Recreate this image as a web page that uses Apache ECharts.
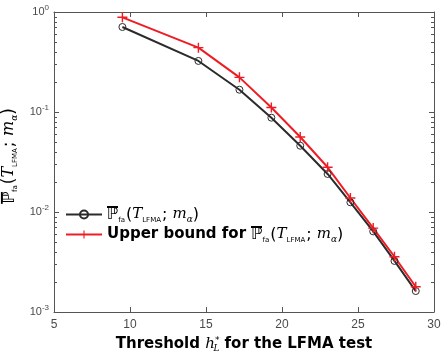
<!DOCTYPE html>
<html><head><meta charset="utf-8">
<script src="https://cdn.jsdelivr.net/npm/echarts@6/dist/echarts.min.js"></script>
<style>html,body{margin:0;padding:0;background:#fff}#c{width:441px;height:351px}</style>
</head><body><div id="c"></div>
<script>
var thresholds = [9.5, 14.5, 17.2, 19.3, 21.2, 23.0, 24.5, 26.0, 27.4, 28.8];
var pfa = [0.708, 0.324, 0.167, 0.0877, 0.046, 0.024, 0.0125, 0.0064, 0.00324, 0.00162];
var upperBound = [0.885, 0.44, 0.222, 0.111, 0.0562, 0.028, 0.0138, 0.0069, 0.00357, 0.00179];
var xTicks = [5, 10, 15, 20, 25, 30];
var yDecades = [0.001, 0.01, 0.1, 1];

var chart = echarts.init(document.getElementById('c'));
var axisCol = '#555';
var labCol = '#4a4a4a';
var plusPath = 'path://M4.3,0H5.7V10H4.3ZM0,4.3H10V5.7H0Z';

// small bitmap with a bar at the top, used as background of the P token to draw its overline
var ovl = document.createElement('canvas');
ovl.width = 4; ovl.height = 40;
(function () { var g = ovl.getContext('2d'); g.fillStyle = '#000'; g.fillRect(0, 2, 4, 4); })();

var richY = {
  b: {fontSize: 11, color: labCol, fontFamily: 'Liberation Sans'},
  s: {fontSize: 8, color: labCol, fontFamily: 'Liberation Sans', verticalAlign: 'top', padding: [0,0,8,0]}
};
function legendRich(sz) {
  return {
    p: {fontSize: sz + 1, fontFamily: 'DejaVu Sans', color: '#000', height: 19, lineHeight: 19,
        backgroundColor: {image: ovl}},
    n: {fontSize: sz, fontFamily: 'DejaVu Sans', fontWeight: 'bold', color: '#000'},
    pn: {fontSize: sz + 1, fontFamily: 'DejaVu Sans', color: '#000'},
    it: {fontSize: sz, fontFamily: 'DejaVu Serif', fontStyle: 'italic', color: '#000'},
    sub: {fontSize: 7, fontFamily: 'DejaVu Sans', color: '#000', verticalAlign: 'bottom', padding: [6,1,0,0]},
    suba: {fontSize: 9, fontFamily: 'DejaVu Serif', fontStyle: 'italic', color: '#000', verticalAlign: 'bottom', padding: [6,0,0,0]}
  };
}
var pLabel = '{p|\u2119}{sub|fa}{pn|(}{it|T}{sub|LFMA}{pn|; }{it|m}{suba|\u03b1}{pn|)}';
var names = ['pfa', 'ub'];
var legendText = {
  pfa: pLabel,
  ub: '{n|Upper bound for }' + pLabel
};

chart.setOption({
  animation: false,
  grid: {left: 54, right: 7, top: 12, bottom: 39, outerBoundsMode: 'none', containLabel: false},
  legend: {
    orient: 'vertical', left: 65, top: 205, padding: 0, itemWidth: 36, itemHeight: 10, itemGap: 1,
    data: names,
    formatter: function (n) { return legendText[n]; },
    textStyle: {rich: legendRich(15), fontSize: 15}
  },
  xAxis: [{
    type: 'value', min: 5, max: 30, interval: 5,
    axisLine: {lineStyle: {color: axisCol, width: 1}},
    axisTick: {inside: true, length: 5, lineStyle: {color: axisCol}},
    axisLabel: {color: labCol, fontSize: 12, fontFamily: 'Liberation Sans', margin: 7},
    splitLine: {show: false},
    name: '{n|Threshold }{it|h}{sup|*}{sub|L}{n| for the LFMA test}',
    nameLocation: 'middle', nameGap: 24,
    nameTextStyle: {rich: {
      n: {fontSize: 15, fontFamily: 'DejaVu Sans', fontWeight: 'bold', color: '#000'},
      it: {fontSize: 15, fontFamily: 'DejaVu Serif', fontStyle: 'italic', color: '#000'},
      sup: {fontSize: 9, fontFamily: 'DejaVu Sans', color: '#000', verticalAlign: 'top', padding: [0,0,8,0]},
      sub: {fontSize: 9, fontFamily: 'DejaVu Serif', fontStyle: 'italic', color: '#000', verticalAlign: 'bottom', padding: [8,0,0,-6]}
    }}
  }, {
    type: 'value', min: 5, max: 30, interval: 5, position: 'top',
    axisLine: {lineStyle: {color: axisCol, width: 1}},
    axisTick: {inside: true, length: 5, lineStyle: {color: axisCol}},
    axisLabel: {show: false}, splitLine: {show: false}
  }],
  yAxis: [{
    type: 'log', logBase: 10, min: 0.001, max: 1,
    axisLine: {show: true, lineStyle: {color: axisCol, width: 1}},
    axisTick: {show: true, inside: true, length: 5, lineStyle: {color: axisCol}},
    axisLabel: {
      margin: 5, fontSize: 11,
      formatter: function (v) { return '{b|10}{s|' + Math.round(Math.log10(v)) + '}'; },
      rich: richY
    },
    splitLine: {show: false},
    name: pLabel, nameLocation: 'middle', nameGap: 29, nameRotate: 90,
    nameTextStyle: {rich: legendRich(16), padding: [0, 0, 0, 12]}
  }, {
    type: 'log', logBase: 10, min: 0.001, max: 1, position: 'right',
    axisLine: {show: true, lineStyle: {color: axisCol, width: 1}},
    axisTick: {show: true, inside: true, length: 5, lineStyle: {color: axisCol}},
    axisLabel: {show: false}, splitLine: {show: false}
  }],
  series: [{
    name: 'pfa', type: 'line', xAxisIndex: 0, yAxisIndex: 0,
    data: thresholds.map(function (x, i) { return [x, pfa[i]]; }),
    symbol: 'circle', symbolSize: 7,
    lineStyle: {color: '#2b2b2b', width: 2},
    itemStyle: {color: 'rgba(255,255,255,0)', borderColor: '#2b2b2b', borderWidth: 1}
  }, {
    name: 'ub', type: 'line', xAxisIndex: 0, yAxisIndex: 0,
    data: thresholds.map(function (x, i) { return [x, upperBound[i]]; }),
    symbol: plusPath, symbolSize: 10,
    lineStyle: {color: '#ee1c24', width: 2},
    itemStyle: {color: '#ee1c24'}
  }]
});

// minor ticks on the log axis (2..9 within each decade), placed via the axis scale
var gfx = [];
var xl = chart.convertToPixel({xAxisIndex: 0}, 5);
var xr = chart.convertToPixel({xAxisIndex: 0}, 30);
for (var d = 0; d < yDecades.length - 1; d++) {
  for (var k = 2; k <= 9; k++) {
    var v = yDecades[d] * k;
    var py = Math.round(chart.convertToPixel({yAxisIndex: 0}, v)) + 0.5;
    gfx.push({type: 'line', shape: {x1: xl, y1: py, x2: xl + 3, y2: py}, style: {stroke: axisCol, lineWidth: 1}, silent: true});
    gfx.push({type: 'line', shape: {x1: xr - 3, y1: py, x2: xr, y2: py}, style: {stroke: axisCol, lineWidth: 1}, silent: true});
  }
}
chart.setOption({graphic: gfx});
</script></body></html>
